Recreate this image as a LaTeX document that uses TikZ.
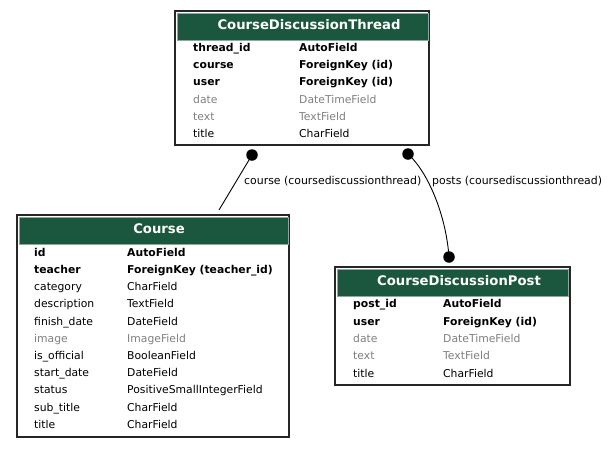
\documentclass[tikz,border=0pt]{standalone}
\usepackage{fontspec}
\setmainfont{DejaVu Sans}
\definecolor{hdr}{HTML}{1B563F}
\definecolor{hdrline}{HTML}{8FA89B}
\definecolor{dim}{HTML}{808080}
\begin{document}
\begin{tikzpicture}[x=1pt,y=-1pt,
  outerbox/.style={draw=black!85,line width=1.3pt,fill=white},
  headbox/.style={draw=hdrline,line width=0.8pt,fill=hdr},
  title/.style={text=white,font=\fontsize{13.2}{15}\selectfont\bfseries,inner sep=0pt},
  fld/.style={anchor=base west,inner sep=0pt,font=\fontsize{10.8}{12}\selectfont},
  key/.style={fld,font=\fontsize{10.8}{12}\selectfont\bfseries},
  grey/.style={fld,text=dim},
  lbl/.style={anchor=base west,inner sep=0pt,font=\fontsize{10.9}{12}\selectfont},
  dotnode/.style={circle,fill=black,inner sep=0pt,minimum size=11.5pt},
  link/.style={line width=0.9pt}]
\useasboundingbox (0,0) rectangle (610,448);
\fill[white] (0,0) rectangle (610,448);
% Thread
\draw[outerbox] (175,11) rectangle (429,145);
\draw[headbox] (177,13) rectangle (428,40);
\node[title] (tT) at (309,25) {CourseDiscussionThread};
\node[key] (t1) at (193,51) {thread\_id};   \node[key] (t1b) at (299,51) {AutoField};
\node[key] (t2) at (193,68) {course};      \node[key] (t2b) at (299,68) {ForeignKey (id)};
\node[key] (t3) at (193,85) {user};        \node[key] (t3b) at (299,85) {ForeignKey (id)};
\node[grey] (t4) at (193,103) {date};      \node[grey] (t4b) at (299,103) {DateTimeField};
\node[grey] (t5) at (193,120) {text};      \node[grey] (t5b) at (299,120) {TextField};
\node[fld] (t6) at (193,137) {title};      \node[fld] (t6b) at (299,137) {CharField};
% Course
\draw[outerbox] (17,215) rectangle (289,437);
\draw[headbox] (19,217) rectangle (288,244);
\node[title] (cT) at (159,229) {Course};
\node[key] (c1) at (34,256) {id};            \node[key] (c1b) at (127,256) {AutoField};
\node[key] (c2) at (34,273) {teacher};       \node[key] (c2b) at (127,273) {ForeignKey (teacher\_id)};
\node[fld] (c3) at (34,290) {category};      \node[fld] (c3b) at (127,290) {CharField};
\node[fld] (c4) at (34,307) {description};   \node[fld] (c4b) at (127,307) {TextField};
\node[fld] (c5) at (34,325) {finish\_date};  \node[fld] (c5b) at (127,325) {DateField};
\node[grey] (c6) at (34,342) {image};        \node[grey] (c6b) at (127,342) {ImageField};
\node[fld] (c7) at (34,359) {is\_official};  \node[fld] (c7b) at (127,359) {BooleanField};
\node[fld] (c8) at (34,376) {start\_date};   \node[fld] (c8b) at (127,376) {DateField};
\node[fld] (c9) at (34,393) {status};        \node[fld] (c9b) at (127,393) {PositiveSmallIntegerField};
\node[fld] (c10) at (34,411) {sub\_title};   \node[fld] (c10b) at (127,411) {CharField};
\node[fld] (c11) at (34,428) {title};        \node[fld] (c11b) at (127,428) {CharField};
% Post
\draw[outerbox] (335,267) rectangle (570,385);
\draw[headbox] (337,269) rectangle (568,296);
\node[title] (pT) at (459,281) {CourseDiscussionPost};
\node[key] (p1) at (353,307) {post\_id};   \node[key] (p1b) at (443,307) {AutoField};
\node[key] (p2) at (353,325) {user};       \node[key] (p2b) at (443,325) {ForeignKey (id)};
\node[grey] (p3) at (353,342) {date};      \node[grey] (p3b) at (443,342) {DateTimeField};
\node[grey] (p4) at (353,359) {text};      \node[grey] (p4b) at (443,359) {TextField};
\node[fld] (p5) at (353,377) {title};      \node[fld] (p5b) at (443,377) {CharField};
% connectors
\node[dotnode] (d1) at (252,155) {};
\node[dotnode] (d2) at (408,154) {};
\node[dotnode] (d3) at (449,257) {};
\coordinate (e1) at (219,210);
\draw[link] (d1.center) -- (e1);
\draw[link] (d2.center) .. controls (428,172) and (446,215) .. (d3.center);
\node[lbl] (l1) at (244,184) {course (coursediscussionthread)};
\node[lbl] (l2) at (432,184) {posts (coursediscussionthread)};
\end{tikzpicture}
\end{document}
